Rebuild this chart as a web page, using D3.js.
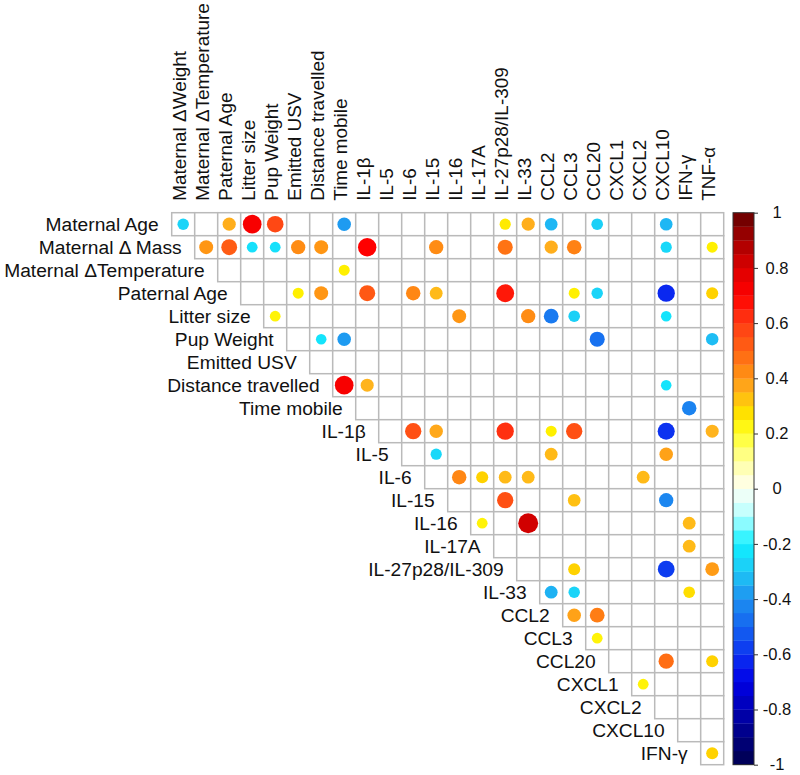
<!DOCTYPE html>
<html><head><meta charset="utf-8">
<script src="https://cdn.jsdelivr.net/npm/d3@7"></script>
<style>
body{margin:0;background:#fff}
text{font-family:"Liberation Sans",Arial,Helvetica,sans-serif;fill:#111}
</style>
</head><body>
<svg id="chart" width="800" height="775"></svg>
<script>
// ---------------- data ----------------
const rowLabels = ["Maternal Age","Maternal Δ Mass","Maternal ΔTemperature","Paternal Age","Litter size",
  "Pup Weight","Emitted USV","Distance travelled","Time mobile","IL-1β","IL-5","IL-6","IL-15","IL-16",
  "IL-17A","IL-27p28/IL-309","IL-33","CCL2","CCL3","CCL20","CXCL1","CXCL2","CXCL10","IFN-γ"];
const colLabels = ["Maternal ΔWeight","Maternal ΔTemperature","Paternal Age","Litter size","Pup Weight",
  "Emitted USV","Distance travelled","Time mobile","IL-1β","IL-5","IL-6","IL-15","IL-16","IL-17A",
  "IL-27p28/IL-309","IL-33","CCL2","CCL3","CCL20","CXCL1","CXCL2","CXCL10","IFN-γ","TNF-α"];
// significant correlations: [row label, column label, r]
const correlations = [
  ["Maternal Age","Maternal ΔWeight",-0.27],["Maternal Age","Paternal Age",0.36],["Maternal Age","Litter size",0.72],
  ["Maternal Age","Pup Weight",0.57],["Maternal Age","Time mobile",-0.38],["Maternal Age","IL-27p28/IL-309",0.26],
  ["Maternal Age","IL-33",0.36],["Maternal Age","CCL2",-0.33],["Maternal Age","CCL20",-0.28],["Maternal Age","CXCL10",-0.33],
  ["Maternal Δ Mass","Maternal ΔTemperature",0.40],["Maternal Δ Mass","Paternal Age",0.52],["Maternal Δ Mass","Litter size",-0.24],
  ["Maternal Δ Mass","Pup Weight",-0.24],["Maternal Δ Mass","Emitted USV",0.42],["Maternal Δ Mass","Distance travelled",0.40],
  ["Maternal Δ Mass","IL-1β",0.70],["Maternal Δ Mass","IL-15",0.42],["Maternal Δ Mass","IL-27p28/IL-309",0.47],
  ["Maternal Δ Mass","CCL2",0.36],["Maternal Δ Mass","CCL3",0.44],["Maternal Δ Mass","CXCL10",-0.26],["Maternal Δ Mass","TNF-α",0.25],
  ["Maternal ΔTemperature","Time mobile",0.25],
  ["Paternal Age","Emitted USV",0.25],["Paternal Age","Distance travelled",0.40],["Paternal Age","IL-1β",0.53],
  ["Paternal Age","IL-6",0.43],["Paternal Age","IL-15",0.34],["Paternal Age","IL-27p28/IL-309",0.66],["Paternal Age","CCL3",0.25],
  ["Paternal Age","CCL20",-0.27],["Paternal Age","CXCL10",-0.62],["Paternal Age","TNF-α",0.30],
  ["Litter size","Pup Weight",0.24],["Litter size","IL-16",0.40],["Litter size","IL-33",0.42],["Litter size","CCL2",-0.45],
  ["Litter size","CCL3",-0.28],["Litter size","CXCL10",-0.23],
  ["Pup Weight","Distance travelled",-0.23],["Pup Weight","Time mobile",-0.38],["Pup Weight","CCL20",-0.47],["Pup Weight","TNF-α",-0.32],
  ["Distance travelled","Time mobile",0.72],["Distance travelled","IL-1β",0.35],["Distance travelled","CXCL10",-0.23],
  ["Time mobile","IFN-γ",-0.43],
  ["IL-1β","IL-6",0.55],["IL-1β","IL-15",0.37],["IL-1β","IL-27p28/IL-309",0.62],["IL-1β","CCL2",0.25],["IL-1β","CCL3",0.55],
  ["IL-1β","CXCL10",-0.60],["IL-1β","TNF-α",0.35],
  ["IL-5","IL-15",-0.26],["IL-5","CCL2",0.34],["IL-5","CXCL10",0.38],
  ["IL-6","IL-16",0.43],["IL-6","IL-17A",0.30],["IL-6","IL-27p28/IL-309",0.34],["IL-6","IL-33",0.34],["IL-6","CXCL2",0.34],
  ["IL-15","IL-27p28/IL-309",0.55],["IL-15","CCL3",0.33],["IL-15","CXCL10",-0.42],
  ["IL-16","IL-17A",0.24],["IL-16","IL-33",0.82],["IL-16","IFN-γ",0.34],
  ["IL-17A","IFN-γ",0.34],
  ["IL-27p28/IL-309","CCL3",0.30],["IL-27p28/IL-309","CXCL10",-0.58],["IL-27p28/IL-309","TNF-α",0.39],
  ["IL-33","CCL2",-0.34],["IL-33","CCL3",-0.27],["IL-33","IFN-γ",0.28],
  ["CCL2","CCL3",0.38],["CCL2","CCL20",0.45],
  ["CCL3","CCL20",0.24],
  ["CCL20","CXCL10",0.48],["CCL20","TNF-α",0.30],
  ["CXCL1","CXCL2",0.24],
  ["IFN-γ","TNF-α",0.30]
];
const legendTicks = [1,0.8,0.6,0.4,0.2,0,-0.2,-0.4,-0.6,-0.8,-1];

// ---------------- palette ----------------
const paletteStops = [-1,-0.9,-0.8,-0.7,-0.62,-0.5,-0.4,-0.3,-0.2,-0.1,0,0.1,0.2,0.25,0.3,0.35,0.4,0.5,0.6,0.7,0.8,0.9,1];
const paletteColors = ["#00004d","#000080","#0000b3","#0000e6","#0a28f0","#1464f0","#1e90f0","#1ec8f5","#10f0ff","#b4ffff",
  "#fffff5","#ffffa0","#ffff28","#fff000","#ffd200","#ffb41e","#ff9614","#ff6414","#ff3c14","#ff0000","#dc0000","#a50000","#640000"];
const color = d3.scaleLinear().domain(paletteStops).range(paletteColors).interpolate(d3.interpolateRgb);

// ---------------- layout ----------------
const svg = d3.select("#chart");
const gridLeft = 171.7, gridTop = 212.7, cell = 23;
const x = d3.scaleBand().domain(colLabels).range([gridLeft, gridLeft + cell*colLabels.length]);
const y = d3.scaleBand().domain(rowLabels).range([gridTop, gridTop + cell*rowLabels.length]);
const rScale = d3.scaleSqrt().domain([0,1]).range([0, 11]);

// grid cells (upper triangle)
const gridData = [];
rowLabels.forEach((rl,i)=>{ colLabels.forEach((cl,j)=>{ if(j>=i) gridData.push({r:rl,c:cl}); }); });
svg.append("g").selectAll("rect").data(gridData).join("rect")
  .attr("x", d=>x(d.c)).attr("y", d=>y(d.r))
  .attr("width", x.bandwidth()).attr("height", y.bandwidth())
  .attr("fill","#fff").attr("stroke","#bababa").attr("stroke-width",1.5);

// circles
svg.append("g").selectAll("circle").data(correlations).join("circle")
  .attr("cx", d=>x(d[1]) + x.bandwidth()/2)
  .attr("cy", d=>y(d[0]) + y.bandwidth()/2)
  .attr("r", d=>rScale(Math.abs(d[2])))
  .attr("fill", d=>color(d[2]));

// row labels
svg.append("g").selectAll("text").data(rowLabels).join("text")
  .attr("x", (d,i)=>x(colLabels[i]) - 13)
  .attr("y", d=>y(d) + y.bandwidth()/2)
  .attr("dy","0.34em")
  .attr("text-anchor","end")
  .style("font-size","19.2px")
  .text(d=>d);

// column labels
svg.append("g").selectAll("text").data(colLabels).join("text")
  .attr("transform", d=>`translate(${x(d)+x.bandwidth()/2},${gridTop-12}) rotate(-90)`)
  .attr("dy","3px")
  .attr("text-anchor","start")
  .style("font-size","18.9px")
  .text(d=>d);

// colour bar
const barX = 733, barW = 21;
const cb = d3.scaleLinear().domain([-1,1]).range([gridTop + cell*rowLabels.length, gridTop]);
const nBands = 40;
const bands = d3.range(nBands).map(k => -1 + (k+0.5)*2/nBands);
svg.append("g").selectAll("rect").data(bands).join("rect")
  .attr("x", barX).attr("width", barW)
  .attr("y", d=>cb(d + 1/nBands))
  .attr("height", d=>cb(d - 1/nBands) - cb(d + 1/nBands) + 0.3)
  .attr("fill", d=>color(d));
svg.append("rect").attr("x",barX).attr("y",gridTop).attr("width",barW)
  .attr("height", cb(-1)-cb(1)).attr("fill","none").attr("stroke","#333").attr("stroke-width",1);

const axis = d3.axisRight(cb).tickValues(legendTicks).tickSize(4).tickFormat(d=>String(d));
const ag = svg.append("g").attr("transform",`translate(${barX+barW},0)`).call(axis);
ag.select(".domain").remove();
ag.selectAll(".tick line").attr("stroke","#333");
ag.selectAll(".tick text").attr("x",23).attr("text-anchor","middle")
  .style("font-size","16.5px").style("font-family",'"Liberation Sans",Arial,sans-serif').attr("fill","#111");
</script>
</body></html>
